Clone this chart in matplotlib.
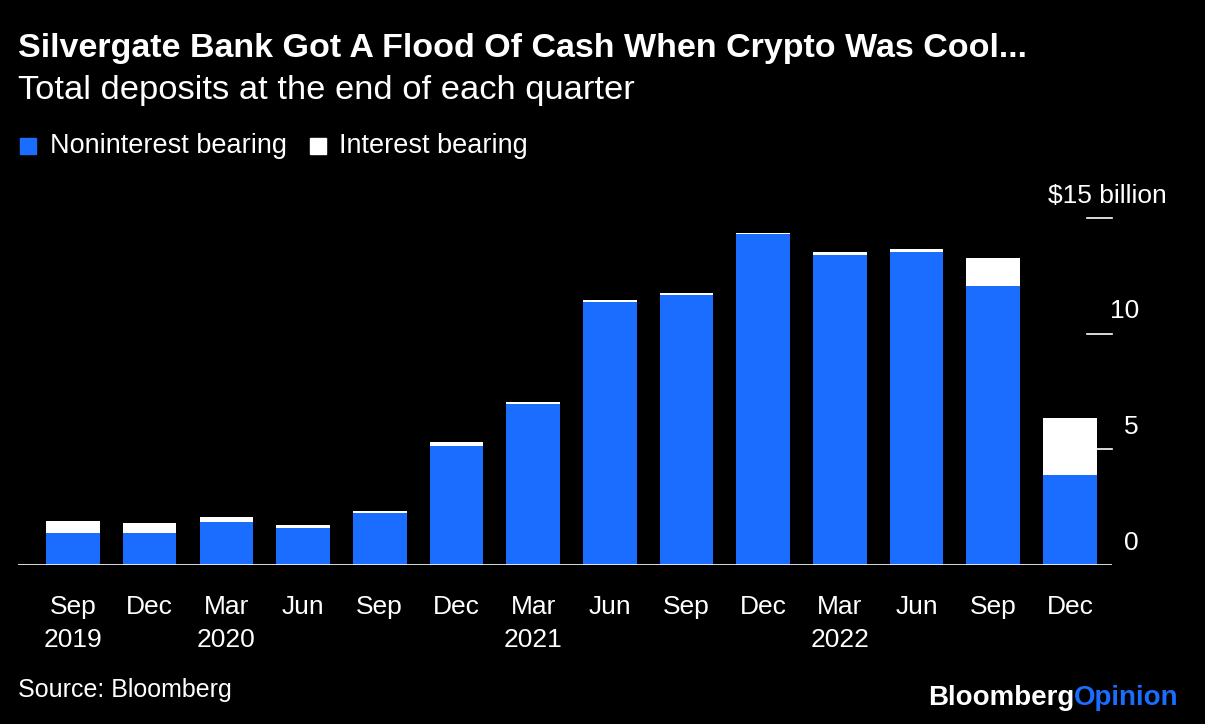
import matplotlib.pyplot as plt
import numpy as np

quarters = ["Sep", "Dec", "Mar", "Jun", "Sep", "Dec", "Mar", "Jun", "Sep", "Dec", "Mar", "Jun", "Sep", "Dec"]
years = {0: "2019", 2: "2020", 6: "2021", 10: "2022"}
noninterest = [1.39, 1.39, 1.86, 1.60, 2.25, 5.15, 6.97, 11.39, 11.69, 14.29, 13.42, 13.55, 12.08, 3.90]
interest = [0.51, 0.43, 0.22, 0.13, 0.09, 0.17, 0.09, 0.08, 0.08, 0.08, 0.09, 0.09, 1.21, 2.46]
yticks = [0, 5, 10, 15]
ylabels = ["0", "5", "10", "$15 billion"]

blue = "#1a6dff"
F = "Liberation Sans"
fig = plt.figure(figsize=(12.05, 7.24), dpi=100)
fig.patch.set_facecolor("black")
ax = fig.add_axes([18/1205, 1-565/724, 1094/1205, (565-218)/724])
ax.set_facecolor("black")
x = np.arange(len(quarters))
ax.bar(x, noninterest, width=0.70, color=blue)
ax.bar(x, interest, bottom=noninterest, width=0.70, color="white")
ax.set_xlim(-0.717, 13.55)
ax.set_ylim(0, 15)
for s in ax.spines.values():
    s.set_visible(False)
ax.set_xticks([]); ax.set_yticks([])
ax.axhline(0, color="white", lw=1.2)
for v, lab in zip(yticks, ylabels):
    if v > 0:
        ax.plot([13.22, 13.55], [v, v], color="white", lw=1.2, clip_on=False)
    xr = 14.26 if v == 15 else 13.9
    ax.text(xr, v + 0.45, lab, color="white", fontsize=19, ha="right", va="bottom", family=F)
for i, q in enumerate(quarters):
    ax.text(i, -1.3, q, color="white", fontsize=19, ha="center", va="top", family=F)
    if i in years:
        ax.text(i, -2.72, years[i], color="white", fontsize=19, ha="center", va="top", family=F)

fig.text(18/1205, 1-48/724, "Silvergate Bank Got A Flood Of Cash When Crypto Was Cool...", color="white",
         fontsize=24.5, fontweight="bold", va="center", family=F)
fig.text(18/1205, 1-90/724, "Total deposits at the end of each quarter", color="white",
         fontsize=24.8, va="center", family=F)
fig.patches.append(plt.Rectangle((20/1205, 1-154/724), 16/1205, 16/724, color=blue, transform=fig.transFigure))
fig.text(50/1205, 1-146/724, "Noninterest bearing", color="white", fontsize=19.5, va="center", family=F)
fig.patches.append(plt.Rectangle((310/1205, 1-154/724), 16/1205, 16/724, color="white", transform=fig.transFigure))
fig.text(339/1205, 1-146/724, "Interest bearing", color="white", fontsize=19.5, va="center", family=F)
fig.text(18/1205, 1-690/724, "Source: Bloomberg", color="white", fontsize=18, va="center", family=F)
fig.text(1074/1205, 1-698/724, "Bloomberg", color="white", fontsize=20, fontweight="bold", ha="right",
         va="center", family=F)
fig.text(1074/1205, 1-698/724, "Opinion", color=blue, fontsize=20, fontweight="bold", ha="left",
         va="center", family=F)
fig.savefig("out.png", dpi=100, facecolor="black")
